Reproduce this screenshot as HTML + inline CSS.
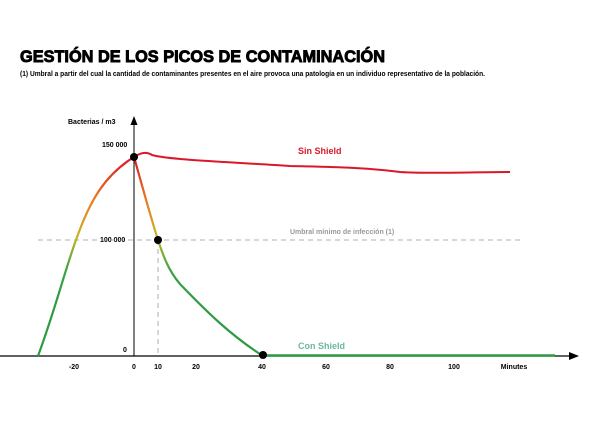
<!DOCTYPE html>
<html><head><meta charset="utf-8"><style>
body{margin:0;background:#fff;width:600px;height:425px;overflow:hidden;font-family:"Liberation Sans",sans-serif}
</style></head><body>
<svg width="600" height="425" viewBox="0 0 600 425" xmlns="http://www.w3.org/2000/svg" font-family="Liberation Sans, sans-serif">
<defs>
<linearGradient id="g" gradientUnits="userSpaceOnUse" x1="0" y1="157" x2="0" y2="300">
<stop offset="0" stop-color="#d9182a"/>
<stop offset="0.3" stop-color="#ea7a1f"/>
<stop offset="0.55" stop-color="#c9b42a"/>
<stop offset="0.8" stop-color="#3aa345"/>
<stop offset="1" stop-color="#2e9a43"/>
</linearGradient>
</defs>
<text x="20" y="62" font-size="17" font-weight="900" fill="#000" stroke="#000" stroke-width="0.9" textLength="365" lengthAdjust="spacingAndGlyphs">GESTIÓN DE LOS PICOS DE CONTAMINACIÓN</text>
<text x="20" y="76" font-size="7.5" font-weight="bold" fill="#000" textLength="465" lengthAdjust="spacingAndGlyphs">(1) Umbral a partir del cual la cantidad de contaminantes presentes en el aire provoca una patología en un individuo representativo de la población.</text>
<line x1="134" y1="124" x2="134" y2="356" stroke="#000" stroke-width="1"/>
<polygon points="134,116 130.5,125 137.5,125" fill="#000"/>
<line x1="0" y1="356" x2="570" y2="356" stroke="#000" stroke-width="1.2"/>
<polygon points="579,356 569,352 569,360" fill="#000"/>
<g font-weight="bold">
<text x="68" y="124" font-size="7" fill="#000">Bacterias / m3</text>
<text x="102" y="147" font-size="7" fill="#000">150 000</text>
<text x="100" y="242" font-size="7" fill="#000">100 000</text>
<text x="123" y="352" font-size="7" fill="#000">0</text>
<g font-size="7" fill="#000" text-anchor="middle">
<text x="74" y="369">-20</text><text x="134" y="369">0</text><text x="158" y="369">10</text>
<text x="196" y="369">20</text><text x="262" y="369">40</text><text x="326" y="369">60</text>
<text x="390" y="369">80</text><text x="454" y="369">100</text><text x="514" y="369">Minutes</text>
</g>
</g>
<line x1="38" y1="240" x2="522" y2="240" stroke="#999" stroke-width="0.8" stroke-dasharray="5,4"/>
<line x1="158" y1="240" x2="158" y2="356" stroke="#999" stroke-width="0.8" stroke-dasharray="5,4"/>
<text x="290" y="234" font-size="7" font-weight="bold" fill="#999">Umbral mínimo de infección (1)</text>
<path d="M134,157 C140,153 146,151 152,155 C170,160 230,162 290,166 C330,167 360,167 400,172 C430,174 470,172 510,172" fill="none" stroke="#d9182a" stroke-width="2"/>
<text x="298" y="154" font-size="9" font-weight="bold" fill="#d9182a">Sin Shield</text>
<path d="M38,356 C55,310 65,270 76,240 C90,200 105,175 134,157" fill="none" stroke="url(#g)" stroke-width="2.2"/>
<path d="M134,157 C142,185 150,215 158,240 C163,255 168,270 180,284 C205,310 230,335 263,356" fill="none" stroke="url(#g)" stroke-width="2.2"/>
<line x1="263" y1="355.5" x2="555" y2="355.5" stroke="#2e9a43" stroke-width="2.5"/>
<text x="298" y="349" font-size="9" font-weight="bold" fill="#6db89a">Con Shield</text>
<circle cx="134" cy="157" r="4" fill="#000"/>
<circle cx="158" cy="240" r="4" fill="#000"/>
<circle cx="263" cy="355" r="4" fill="#000"/>
</svg>
</body></html>
